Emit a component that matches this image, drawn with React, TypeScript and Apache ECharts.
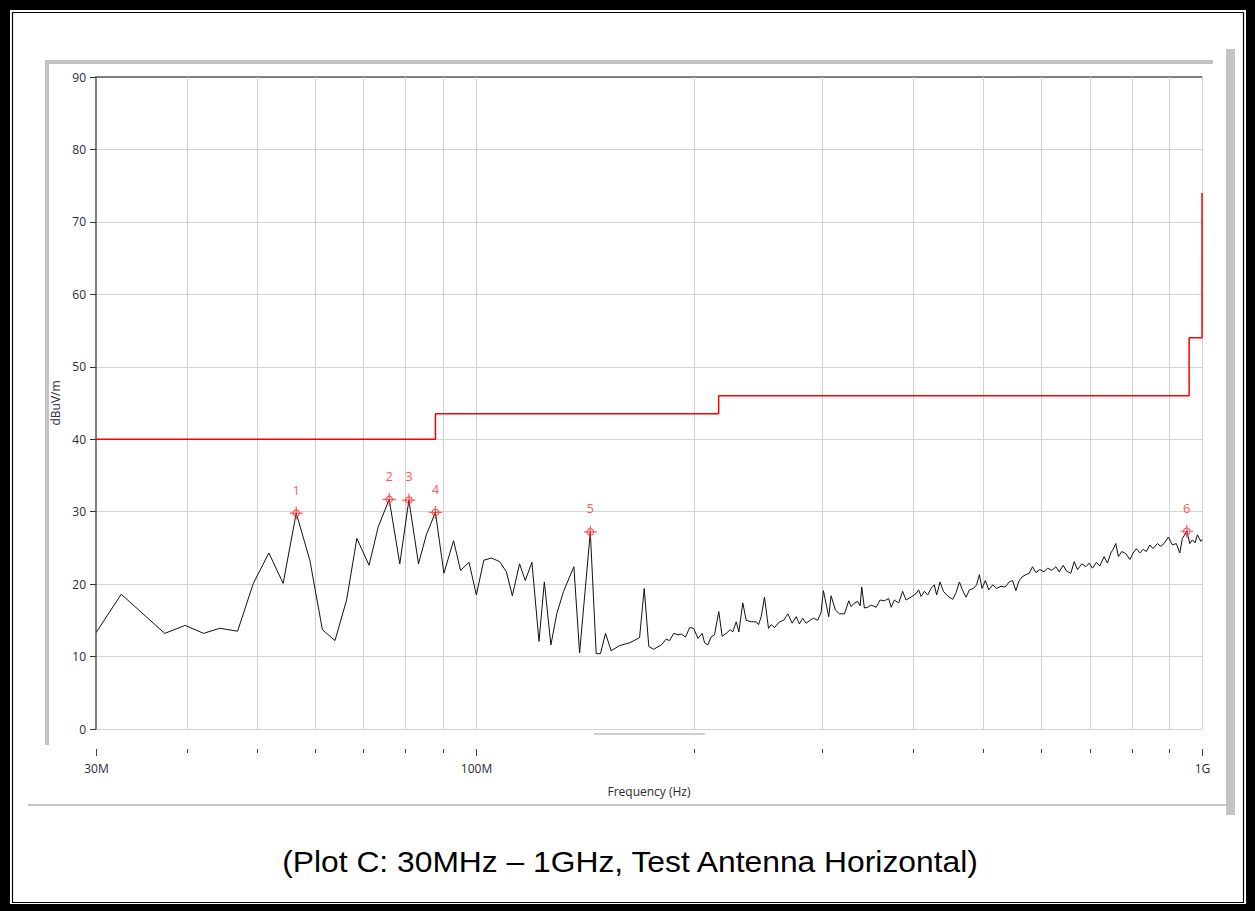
import React, { useEffect, useRef } from "react";
import * as echarts from "echarts";

// Measured trace (frequency in MHz, level in dBuV/m)
const traceFreqMHz = [
  30.0, 32.5, 37.3, 39.8, 42.2, 44.4, 47.0, 49.4, 51.9, 54.3, 56.6, 59.1, 61.5, 64.0, 66.4, 68.6,
  71.3, 73.4, 76.0, 78.6, 80.9, 83.4, 85.5, 88.0, 90.4, 93.2, 95.3, 97.9, 100.2, 102.6, 105.1,
  107.9, 110.2, 112.3, 114.9, 117.0, 119.5, 122.2, 124.3, 126.9, 129.3, 132.1, 136.5, 139.0,
  143.8, 146.5, 148.5, 150.9, 153.6, 157.7, 162.9, 168.1, 170.6, 173.1, 175.7, 180.1, 182.9,
  184.9, 187.3, 189.8, 191.9, 194.5, 197.0, 199.5, 202.3, 205.0, 206.6, 208.7, 210.9, 213.2,
  216.1, 218.4, 221.2, 224.1, 225.9, 228.4, 230.3, 233.2, 235.7, 239.5, 243.3, 245.1, 247.2,
  249.8, 253.0, 255.2, 257.9, 262.0, 265.4, 269.0, 272.7, 276.2, 279.0, 281.9, 285.0, 288.6,
  291.7, 295.7, 298.9, 301.1, 304.2, 306.2, 308.5, 312.8, 316.8, 321.9, 326.3, 328.8, 332.2,
  335.7, 338.3, 340.0, 342.9, 346.5, 350.3, 355.9, 360.4, 365.4, 370.4, 373.2, 377.1, 382.3,
  387.1, 391.3, 397.5, 403.9, 407.3, 410.4, 414.7, 419.1, 423.6, 428.0, 431.1, 435.9, 440.5,
  445.0, 448.9, 453.6, 458.5, 463.4, 468.3, 473.3, 478.3, 484.4, 489.4, 493.7, 497.9, 503.2,
  508.5, 515.0, 521.5, 528.6, 535.9, 542.7, 548.4, 554.3, 559.0, 565.0, 572.2, 578.2, 584.3,
  590.6, 598.1, 606.3, 612.7, 621.3, 629.2, 635.8, 644.0, 650.6, 659.8, 666.8, 673.8, 683.2,
  691.9, 699.2, 706.5, 715.5, 723.3, 733.2, 741.0, 748.9, 754.4, 760.8, 767.2, 775.5, 785.4,
  795.5, 803.9, 812.2, 821.0, 829.7, 838.3, 847.5, 856.4, 868.2, 877.5, 886.8, 898.9, 910.4,
  921.9, 932.0, 939.7, 953.0, 962.0, 970.0, 978.3, 985.5, 996.1, 1000.0,
];
const traceLevel = [
  13.3, 18.6, 13.2, 14.3, 13.2, 13.9, 13.5, 20.1, 24.3, 20.1, 29.8, 23.3, 13.7, 12.2, 17.8, 26.3,
  22.6, 27.9, 31.7, 22.8, 31.6, 22.8, 26.8, 29.9, 21.5, 26.0, 21.9, 23.0, 18.5, 23.3, 23.6,
  23.1, 21.7, 18.4, 22.8, 20.5, 23.0, 12.1, 20.3, 11.6, 15.9, 19.0, 22.4, 10.5,
  27.2, 10.4, 10.4, 13.2, 10.8, 11.5, 11.9, 12.6, 19.4, 11.4, 11.0, 11.6, 12.4,
  12.2, 13.2, 13.0, 13.1, 12.7, 14.0, 13.9, 12.5, 13.2, 11.9, 11.6, 12.7, 13.0,
  16.2, 12.8, 13.2, 13.7, 13.4, 14.8, 13.4, 17.4, 15.0, 14.8, 14.8, 14.4, 15.5,
  18.2, 13.9, 14.4, 14.0, 14.8, 15.0, 15.9, 14.6, 15.5, 14.5, 15.3, 14.6, 15.0,
  15.3, 15.0, 16.1, 19.1, 16.9, 15.5, 18.4, 16.4, 15.9, 15.9, 17.7, 16.9, 17.4,
  17.6, 17.0, 19.6, 16.7, 16.8, 17.1, 16.8, 17.8, 17.7, 18.0, 16.8, 17.8, 17.4,
  19.0, 17.8, 18.2, 18.7, 19.2, 18.3, 19.0, 18.5, 19.4, 19.9, 18.5, 20.3, 19.0,
  18.5, 18.2, 17.9, 18.8, 20.3, 19.1, 18.2, 19.2, 19.4, 19.9, 21.3, 19.4, 20.5,
  19.2, 19.9, 19.4, 19.7, 19.6, 20.3, 20.5, 19.1, 20.3, 21.0, 21.3, 21.5, 22.4,
  21.6, 22.0, 21.7, 22.2, 21.9, 22.4, 21.7, 22.6, 21.8, 21.5, 23.1, 22.0, 22.8,
  22.4, 22.9, 22.2, 23.0, 22.5, 23.8, 22.9, 24.3, 24.8, 25.6, 23.8, 24.5, 24.2,
  23.4, 24.3, 24.9, 24.3, 24.8, 24.5, 25.4, 24.9, 25.6, 25.2, 25.6, 26.5, 25.4,
  25.6, 24.3, 26.3, 27.3, 25.6, 26.1, 25.7, 26.8, 25.9, 26.2,
];

// Limit line (stepped)
const limitFreqMHz = [30, 88, 88, 216, 216, 960, 960, 1000, 1000];
const limitLevel = [40, 40, 43.5, 43.5, 46, 46, 54, 54, 74];

// Peak markers
const markerFreqMHz = [56.6, 76.0, 80.9, 88.0, 143.8, 953.0];
const markerLevel = [29.8, 31.7, 31.6, 29.9, 27.2, 27.3];
const markerLabels = ["1", "2", "3", "4", "5", "6"];

// Axis ticks
const gridFreqMHz = [30, 40, 50, 60, 70, 80, 90, 100, 200, 300, 400, 500, 600, 700, 800, 900, 1000];
const xTickFreqMHz = [30, 100, 1000];
const xTickLabels = ["30M", "100M", "1G"];
const yMin = 0;
const yMax = 90;
const yStep = 10;

const caption = "(Plot C: 30MHz \u2013 1GHz, Test Antenna Horizontal)";

const UI_FONT = "'Open Sans', 'Noto Sans', sans-serif";
const GRAY = "#c3c3c3";

export default function App() {
  const ref = useRef<HTMLDivElement>(null);

  useEffect(() => {
    if (!ref.current) return;
    const chart = echarts.init(ref.current, undefined, { renderer: "svg" });

    const markerSymbol =
      "path://M0,6 L12,6 M6,0 L6,12 M9,6 A3,3 0 1 1 3,6 A3,3 0 1 1 9,6";

    const option: any = {
      animation: false,
      backgroundColor: "#ffffff",
      grid: { left: 96, top: 77, width: 1106, height: 652, show: false },
      xAxis: [
        {
          type: "log",
          logBase: 10,
          min: 30,
          max: 1000,
          position: "bottom",
          axisLine: { show: false },
          axisTick: { show: false },
          axisLabel: { show: false },
          splitLine: { show: false },
          name: "Frequency (Hz)",
          nameLocation: "middle",
          nameGap: 56,
          nameTextStyle: { fontSize: 12, color: "#2a2a3a", fontFamily: UI_FONT },
        },
        {
          type: "log",
          logBase: 10,
          min: 30,
          max: 1000,
          position: "top",
          axisLine: { show: true, onZero: false, lineStyle: { color: "#5c5c5c", width: 1.5 } },
          axisTick: { show: false },
          axisLabel: { show: false },
          splitLine: { show: false },
        },
      ],
      yAxis: {
        type: "value",
        min: yMin,
        max: yMax,
        interval: yStep,
        axisLine: { show: true, onZero: false, lineStyle: { color: "#555555", width: 1.5 } },
        axisTick: { show: true, length: 6, lineStyle: { color: "#333333" } },
        axisLabel: { margin: 10, fontSize: 12, color: "#2a2a3a", fontFamily: UI_FONT },
        splitLine: { lineStyle: { color: "#d4d4d4", width: 1 } },
        name: "dBuV/m",
        nameLocation: "middle",
        nameGap: 30,
        nameTextStyle: { fontSize: 12, color: "#2a2a3a", fontFamily: UI_FONT },
      },
      graphic: [
        // outer black frame
        { type: "rect", shape: { x: 0, y: 0, width: 1255, height: 10 }, style: { fill: "#000" }, silent: true },
        { type: "rect", shape: { x: 0, y: 0, width: 10, height: 911 }, style: { fill: "#000" }, silent: true },
        { type: "rect", shape: { x: 1246, y: 0, width: 9, height: 911 }, style: { fill: "#000" }, silent: true },
        { type: "rect", shape: { x: 0, y: 904, width: 1255, height: 7 }, style: { fill: "#000" }, silent: true },
        {
          type: "rect",
          shape: { x: 12.5, y: 12.5, width: 1231, height: 890 },
          style: { fill: "none", stroke: "#000", lineWidth: 1.2 },
          silent: true,
        },
        // gray panel edges
        { type: "rect", shape: { x: 45, y: 60, width: 1168, height: 4 }, style: { fill: GRAY }, silent: true },
        { type: "rect", shape: { x: 45, y: 60, width: 4, height: 685 }, style: { fill: GRAY }, silent: true },
        { type: "rect", shape: { x: 1226, y: 49, width: 9, height: 766 }, style: { fill: GRAY }, silent: true },
        { type: "rect", shape: { x: 28, y: 804, width: 1200, height: 2 }, style: { fill: GRAY }, silent: true },
        { type: "rect", shape: { x: 594, y: 733, width: 111, height: 2 }, style: { fill: "#cfcfcf" }, silent: true },
        // caption
        {
          type: "text",
          x: 630,
          y: 862,
          scaleX: 1.06,
          style: {
            text: caption,
            fontSize: 30,
            fontFamily: "'Liberation Sans', Arial, sans-serif",
            fill: "#000",
            align: "center",
            verticalAlign: "middle",
            textAlign: "center",
            textVerticalAlign: "middle",
          },
          silent: true,
        },
      ],
      series: [
        {
          type: "custom",
          name: "xgrid",
          xAxisIndex: 0,
          yAxisIndex: 0,
          z: 1,
          silent: true,
          clip: false,
          data: gridFreqMHz.map((f) => [f, yMin]),
          encode: { x: 0, y: 1 },
          renderItem: (params: any, api: any) => {
            const f = api.value(0);
            const bottom = api.coord([f, yMin]);
            const top = api.coord([f, yMax]);
            const x = Math.round(bottom[0]) + 0.5;
            const yb = bottom[1];
            const idx = xTickFreqMHz.indexOf(f);
            const major = idx >= 0;
            const children: any[] = [];
            if (f !== gridFreqMHz[0]) {
              children.push({
                type: "line",
                shape: { x1: x, y1: top[1], x2: x, y2: yb },
                style: { stroke: "#d0d0d0", lineWidth: 1 },
              });
            }
            children.push({
              type: "line",
              shape: { x1: x, y1: yb + 20, x2: x, y2: yb + (major ? 27 : 24) },
              style: { stroke: "#444", lineWidth: 1 },
            });
            if (major) {
              children.push({
                type: "text",
                style: {
                  text: xTickLabels[idx],
                  x: x,
                  y: yb + 39,
                  align: "center",
                  verticalAlign: "middle",
                  textAlign: "center",
                  textVerticalAlign: "middle",
                  fontSize: 12,
                  fontFamily: UI_FONT,
                  fill: "#2a2a3a",
                },
              });
            }
            return { type: "group", children };
          },
        },
        {
          type: "line",
          name: "Limit",
          xAxisIndex: 0,
          z: 3,
          data: limitFreqMHz.map((f, i) => [f, limitLevel[i]]),
          showSymbol: false,
          symbol: "none",
          lineStyle: { color: "#ff0000", width: 1.5 },
          silent: true,
        },
        {
          type: "line",
          name: "Trace",
          xAxisIndex: 0,
          z: 4,
          data: traceFreqMHz.map((f, i) => [f, traceLevel[i]]),
          showSymbol: false,
          symbol: "none",
          lineStyle: { color: "#111111", width: 1 },
          silent: true,
        },
        {
          type: "scatter",
          name: "Markers",
          xAxisIndex: 0,
          z: 5,
          data: markerFreqMHz.map((f, i) => ({ value: [f, markerLevel[i]], name: markerLabels[i] })),
          symbol: markerSymbol,
          symbolSize: 13,
          itemStyle: { color: "rgba(0,0,0,0)", borderColor: "#ff2a2a", borderWidth: 1.2 },
          label: {
            show: true,
            position: "top",
            distance: 10,
            formatter: (p: any) => p.name,
            color: "#ff2a2a",
            fontSize: 13,
            fontFamily: UI_FONT,
          },
          silent: true,
        },
      ],
    };

    chart.setOption(option);
    return () => chart.dispose();
  }, []);

  return (
    <div
      ref={ref}
      style={{ position: "fixed", left: 0, top: 0, width: 1255, height: 911, background: "#fff" }}
    />
  );
}
